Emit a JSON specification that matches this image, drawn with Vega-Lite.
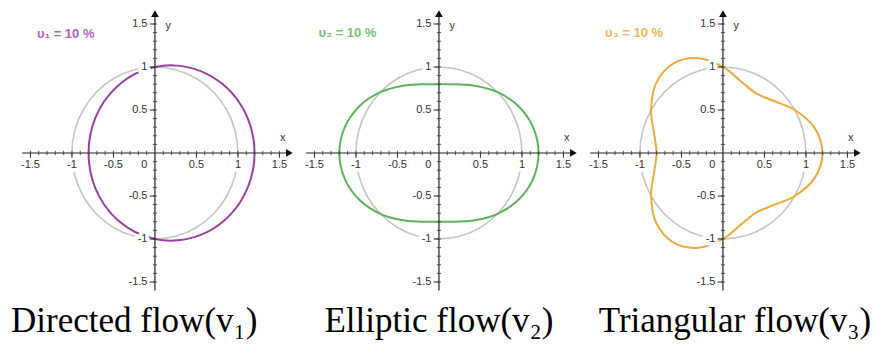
{
  "$schema": "https://vega.github.io/schema/vega-lite/v6.json",
  "padding": 0,
  "spacing": 0,
  "bounds": "flush",
  "background": "white",
  "config": {"view": {"stroke": null}},
  "datasets": {
    "circle": [
      {"k":0,"x":1,"y":0},{"k":1,"x":0.9659,"y":0.2588},{"k":2,"x":0.866,"y":0.5},{"k":3,"x":0.7071,"y":0.7071},
      {"k":4,"x":0.5,"y":0.866},{"k":5,"x":0.2588,"y":0.9659},{"k":6,"x":0,"y":1},{"k":7,"x":-0.2588,"y":0.9659},
      {"k":8,"x":-0.5,"y":0.866},{"k":9,"x":-0.7071,"y":0.7071},{"k":10,"x":-0.866,"y":0.5},{"k":11,"x":-0.9659,"y":0.2588},
      {"k":12,"x":-1,"y":0},{"k":13,"x":-0.9659,"y":-0.2588},{"k":14,"x":-0.866,"y":-0.5},{"k":15,"x":-0.7071,"y":-0.7071},
      {"k":16,"x":-0.5,"y":-0.866},{"k":17,"x":-0.2588,"y":-0.9659},{"k":18,"x":0,"y":-1},{"k":19,"x":0.2588,"y":-0.9659},
      {"k":20,"x":0.5,"y":-0.866},{"k":21,"x":0.7071,"y":-0.7071},{"k":22,"x":0.866,"y":-0.5},{"k":23,"x":0.9659,"y":-0.2588}
    ],
    "v1": [
      {"k":0,"x":1.2,"y":0},{"k":1,"x":1.1525,"y":0.3088},{"k":2,"x":1.016,"y":0.5866},{"k":3,"x":0.8071,"y":0.8071},
      {"k":4,"x":0.55,"y":0.9526},{"k":5,"x":0.2722,"y":1.0159},{"k":6,"x":0,"y":1},{"k":7,"x":-0.2454,"y":0.9159},
      {"k":8,"x":-0.45,"y":0.7794},{"k":9,"x":-0.6071,"y":0.6071},{"k":10,"x":-0.716,"y":0.4134},{"k":11,"x":-0.7793,"y":0.2088},
      {"k":12,"x":-0.8,"y":0},{"k":13,"x":-0.7793,"y":-0.2088},{"k":14,"x":-0.716,"y":-0.4134},{"k":15,"x":-0.6071,"y":-0.6071},
      {"k":16,"x":-0.45,"y":-0.7794},{"k":17,"x":-0.2454,"y":-0.9159},{"k":18,"x":0,"y":-1},{"k":19,"x":0.2722,"y":-1.0159},
      {"k":20,"x":0.55,"y":-0.9526},{"k":21,"x":0.8071,"y":-0.8071},{"k":22,"x":1.016,"y":-0.5866},{"k":23,"x":1.1525,"y":-0.3088}
    ],
    "v2": [
      {"k":0,"x":1.2,"y":0},{"k":1,"x":1.1332,"y":0.3036},{"k":2,"x":0.9526,"y":0.55},{"k":3,"x":0.7071,"y":0.7071},
      {"k":4,"x":0.45,"y":0.7794},{"k":5,"x":0.214,"y":0.7986},{"k":6,"x":0,"y":0.8},{"k":7,"x":-0.214,"y":0.7986},
      {"k":8,"x":-0.45,"y":0.7794},{"k":9,"x":-0.7071,"y":0.7071},{"k":10,"x":-0.9526,"y":0.55},{"k":11,"x":-1.1332,"y":0.3036},
      {"k":12,"x":-1.2,"y":0},{"k":13,"x":-1.1332,"y":-0.3036},{"k":14,"x":-0.9526,"y":-0.55},{"k":15,"x":-0.7071,"y":-0.7071},
      {"k":16,"x":-0.45,"y":-0.7794},{"k":17,"x":-0.214,"y":-0.7986},{"k":18,"x":0,"y":-0.8},{"k":19,"x":0.214,"y":-0.7986},
      {"k":20,"x":0.45,"y":-0.7794},{"k":21,"x":0.7071,"y":-0.7071},{"k":22,"x":0.9526,"y":-0.55},{"k":23,"x":1.1332,"y":-0.3036}
    ],
    "v3": [
      {"k":0,"x":1.2,"y":0},{"k":1,"x":1.1025,"y":0.2954},{"k":2,"x":0.866,"y":0.5},{"k":3,"x":0.6071,"y":0.6071},
      {"k":4,"x":0.4,"y":0.6928},{"k":5,"x":0.2222,"y":0.8293},{"k":6,"x":0,"y":1},{"k":7,"x":-0.2954,"y":1.1025},
      {"k":8,"x":-0.6,"y":1.0392},{"k":9,"x":-0.8071,"y":0.8071},{"k":10,"x":-0.866,"y":0.5},{"k":11,"x":-0.8293,"y":0.2222},
      {"k":12,"x":-0.8,"y":0},{"k":13,"x":-0.8293,"y":-0.2222},{"k":14,"x":-0.866,"y":-0.5},{"k":15,"x":-0.8071,"y":-0.8071},
      {"k":16,"x":-0.6,"y":-1.0392},{"k":17,"x":-0.2954,"y":-1.1025},{"k":18,"x":0,"y":-1},{"k":19,"x":0.2222,"y":-0.8293},
      {"k":20,"x":0.4,"y":-0.6928},{"k":21,"x":0.6071,"y":-0.6071},{"k":22,"x":0.866,"y":-0.5},{"k":23,"x":1.1025,"y":-0.2954}
    ],
    "minor": [
      {"t":-1.5},{"t":-1.4},{"t":-1.3},{"t":-1.2},{"t":-1.1},{"t":-1},{"t":-0.9},{"t":-0.8},{"t":-0.7},{"t":-0.6},
      {"t":-0.5},{"t":-0.4},{"t":-0.3},{"t":-0.2},{"t":-0.1},{"t":0.1},{"t":0.2},{"t":0.3},{"t":0.4},{"t":0.5},
      {"t":0.6},{"t":0.7},{"t":0.8},{"t":0.9},{"t":1},{"t":1.1},{"t":1.2},{"t":1.3},{"t":1.4},{"t":1.5}
    ],
    "major": [{"t":-1.5},{"t":-1},{"t":-0.5},{"t":0.5},{"t":1},{"t":1.5}],
    "xlabels": [
      {"x":-1.5,"y":-0.14,"t":"-1.5"},{"x":-1,"y":-0.14,"t":"-1"},{"x":-0.5,"y":-0.14,"t":"-0.5"},
      {"x":0.5,"y":-0.14,"t":"0.5"},{"x":1,"y":-0.14,"t":"1"},{"x":1.5,"y":-0.14,"t":"1.5"}
    ],
    "ylabels": [
      {"x":-0.09,"y":1.5,"t":"1.5"},{"x":-0.09,"y":1,"t":"1"},{"x":-0.09,"y":0.5,"t":"0.5"},
      {"x":-0.09,"y":-0.5,"t":"-0.5"},{"x":-0.09,"y":-1,"t":"-1"},{"x":-0.09,"y":-1.5,"t":"-1.5"},
      {"x":-0.09,"y":-0.14,"t":"0"}
    ],
    "arrows": [{"x":1.62,"y":0,"s":"triangle-right"},{"x":0,"y":1.62,"s":"triangle-up"}],
    "names": [{"x":1.54,"y":0.17,"t":"x"},{"x":0.16,"y":1.48,"t":"y"}]
  },
  "hconcat": [
    {
      "width": 284, "height": 344,
      "layer": [
        {"data":{"name":"circle"},"mark":{"type":"line","interpolate":"cardinal-closed","stroke":"#c6c6c6","strokeWidth":1.6},
         "encoding":{"x":{"field":"x","type":"quantitative","scale":{"domain":[-1.867,1.555],"nice":false,"zero":false},"axis":null},
                     "y":{"field":"y","type":"quantitative","scale":{"domain":[-2.221,1.779],"nice":false,"zero":false},"axis":null},
                     "order":{"field":"k","type":"quantitative"}}},
        {"data":{"name":"v1"},"mark":{"type":"line","interpolate":"cardinal-closed","stroke":"#9c3fa0","strokeWidth":2},
         "encoding":{"x":{"field":"x","type":"quantitative"},"y":{"field":"y","type":"quantitative"},"order":{"field":"k","type":"quantitative"}}},
        {"data":{"name":"xlabels"},"mark":{"type":"text","align":"center","baseline":"middle","font":"Liberation Sans","fontSize":11,"fill":"white","stroke":"white","strokeWidth":7},
         "encoding":{"x":{"field":"x","type":"quantitative"},"y":{"field":"y","type":"quantitative"},"text":{"field":"t"}}},
        {"data":{"name":"ylabels"},"mark":{"type":"text","align":"right","baseline":"middle","font":"Liberation Sans","fontSize":11,"fill":"white","stroke":"white","strokeWidth":7},
         "encoding":{"x":{"field":"x","type":"quantitative"},"y":{"field":"y","type":"quantitative"},"text":{"field":"t"}}},
        {"data":{"values":[{}]},"mark":{"type":"rule","color":"#222","strokeWidth":1.2},
         "encoding":{"x":{"datum":-1.6},"x2":{"datum":1.6},"y":{"datum":0}}},
        {"data":{"values":[{}]},"mark":{"type":"rule","color":"#222","strokeWidth":1.2},
         "encoding":{"x":{"datum":0},"y":{"datum":-1.6},"y2":{"datum":1.6}}},
        {"data":{"name":"minor"},"mark":{"type":"rule","color":"#444","strokeWidth":0.9},
         "encoding":{"x":{"field":"t","type":"quantitative"},"y":{"datum":-0.025},"y2":{"datum":0.025}}},
        {"data":{"name":"minor"},"mark":{"type":"rule","color":"#444","strokeWidth":0.9},
         "encoding":{"y":{"field":"t","type":"quantitative"},"x":{"datum":-0.025},"x2":{"datum":0.025}}},
        {"data":{"name":"major"},"mark":{"type":"rule","color":"#333","strokeWidth":1},
         "encoding":{"x":{"field":"t","type":"quantitative"},"y":{"datum":-0.055},"y2":{"datum":0}}},
        {"data":{"name":"major"},"mark":{"type":"rule","color":"#333","strokeWidth":1},
         "encoding":{"y":{"field":"t","type":"quantitative"},"x":{"datum":-0.065},"x2":{"datum":0}}},
        {"data":{"name":"arrows"},"mark":{"type":"point","filled":true,"color":"#111","size":60,"opacity":1},
         "encoding":{"x":{"field":"x","type":"quantitative"},"y":{"field":"y","type":"quantitative"},"shape":{"field":"s","type":"nominal","scale":null}}},
        {"data":{"name":"xlabels"},"mark":{"type":"text","align":"center","baseline":"middle","font":"Liberation Sans","fontSize":11,"color":"#333"},
         "encoding":{"x":{"field":"x","type":"quantitative"},"y":{"field":"y","type":"quantitative"},"text":{"field":"t"}}},
        {"data":{"name":"ylabels"},"mark":{"type":"text","align":"right","baseline":"middle","font":"Liberation Sans","fontSize":11,"color":"#333"},
         "encoding":{"x":{"field":"x","type":"quantitative"},"y":{"field":"y","type":"quantitative"},"text":{"field":"t"}}},
        {"data":{"name":"names"},"mark":{"type":"text","align":"center","baseline":"middle","font":"Liberation Sans","fontSize":11,"color":"#333"},
         "encoding":{"x":{"field":"x","type":"quantitative"},"y":{"field":"y","type":"quantitative"},"text":{"field":"t"}}},
        {"data":{"values":[{"x":-1.42,"y":1.38,"t":"υ₁ = 10 %"}]},"mark":{"type":"text","align":"left","baseline":"middle","font":"Liberation Sans","fontSize":13,"fontWeight":"bold","color":"#b563b9"},
         "encoding":{"x":{"field":"x","type":"quantitative"},"y":{"field":"y","type":"quantitative"},"text":{"field":"t"}}},
        {"data":{"values":[{"x":-0.25,"y":-2.08,"t":"Directed flow(v₁)"}]},"mark":{"type":"text","align":"center","baseline":"alphabetic","font":"Liberation Serif","fontSize":35,"color":"#000"},
         "encoding":{"x":{"field":"x","type":"quantitative"},"y":{"field":"y","type":"quantitative"},"text":{"field":"t"}}}
      ]
    },
    {
      "width": 284, "height": 344,
      "layer": [
        {"data":{"name":"circle"},"mark":{"type":"line","interpolate":"cardinal-closed","stroke":"#c6c6c6","strokeWidth":1.6},
         "encoding":{"x":{"field":"x","type":"quantitative","scale":{"domain":[-1.867,1.555],"nice":false,"zero":false},"axis":null},
                     "y":{"field":"y","type":"quantitative","scale":{"domain":[-2.221,1.779],"nice":false,"zero":false},"axis":null},
                     "order":{"field":"k","type":"quantitative"}}},
        {"data":{"name":"v2"},"mark":{"type":"line","interpolate":"cardinal-closed","stroke":"#5cb35c","strokeWidth":2},
         "encoding":{"x":{"field":"x","type":"quantitative"},"y":{"field":"y","type":"quantitative"},"order":{"field":"k","type":"quantitative"}}},
        {"data":{"name":"xlabels"},"mark":{"type":"text","align":"center","baseline":"middle","font":"Liberation Sans","fontSize":11,"fill":"white","stroke":"white","strokeWidth":7},
         "encoding":{"x":{"field":"x","type":"quantitative"},"y":{"field":"y","type":"quantitative"},"text":{"field":"t"}}},
        {"data":{"name":"ylabels"},"mark":{"type":"text","align":"right","baseline":"middle","font":"Liberation Sans","fontSize":11,"fill":"white","stroke":"white","strokeWidth":7},
         "encoding":{"x":{"field":"x","type":"quantitative"},"y":{"field":"y","type":"quantitative"},"text":{"field":"t"}}},
        {"data":{"values":[{}]},"mark":{"type":"rule","color":"#222","strokeWidth":1.2},
         "encoding":{"x":{"datum":-1.6},"x2":{"datum":1.6},"y":{"datum":0}}},
        {"data":{"values":[{}]},"mark":{"type":"rule","color":"#222","strokeWidth":1.2},
         "encoding":{"x":{"datum":0},"y":{"datum":-1.6},"y2":{"datum":1.6}}},
        {"data":{"name":"minor"},"mark":{"type":"rule","color":"#444","strokeWidth":0.9},
         "encoding":{"x":{"field":"t","type":"quantitative"},"y":{"datum":-0.025},"y2":{"datum":0.025}}},
        {"data":{"name":"minor"},"mark":{"type":"rule","color":"#444","strokeWidth":0.9},
         "encoding":{"y":{"field":"t","type":"quantitative"},"x":{"datum":-0.025},"x2":{"datum":0.025}}},
        {"data":{"name":"major"},"mark":{"type":"rule","color":"#333","strokeWidth":1},
         "encoding":{"x":{"field":"t","type":"quantitative"},"y":{"datum":-0.055},"y2":{"datum":0}}},
        {"data":{"name":"major"},"mark":{"type":"rule","color":"#333","strokeWidth":1},
         "encoding":{"y":{"field":"t","type":"quantitative"},"x":{"datum":-0.065},"x2":{"datum":0}}},
        {"data":{"name":"arrows"},"mark":{"type":"point","filled":true,"color":"#111","size":60,"opacity":1},
         "encoding":{"x":{"field":"x","type":"quantitative"},"y":{"field":"y","type":"quantitative"},"shape":{"field":"s","type":"nominal","scale":null}}},
        {"data":{"name":"xlabels"},"mark":{"type":"text","align":"center","baseline":"middle","font":"Liberation Sans","fontSize":11,"color":"#333"},
         "encoding":{"x":{"field":"x","type":"quantitative"},"y":{"field":"y","type":"quantitative"},"text":{"field":"t"}}},
        {"data":{"name":"ylabels"},"mark":{"type":"text","align":"right","baseline":"middle","font":"Liberation Sans","fontSize":11,"color":"#333"},
         "encoding":{"x":{"field":"x","type":"quantitative"},"y":{"field":"y","type":"quantitative"},"text":{"field":"t"}}},
        {"data":{"name":"names"},"mark":{"type":"text","align":"center","baseline":"middle","font":"Liberation Sans","fontSize":11,"color":"#333"},
         "encoding":{"x":{"field":"x","type":"quantitative"},"y":{"field":"y","type":"quantitative"},"text":{"field":"t"}}},
        {"data":{"values":[{"x":-1.45,"y":1.39,"t":"υ₂ = 10 %"}]},"mark":{"type":"text","align":"left","baseline":"middle","font":"Liberation Sans","fontSize":13,"fontWeight":"bold","color":"#78c378"},
         "encoding":{"x":{"field":"x","type":"quantitative"},"y":{"field":"y","type":"quantitative"},"text":{"field":"t"}}},
        {"data":{"values":[{"x":0,"y":-2.08,"t":"Elliptic flow(v₂)"}]},"mark":{"type":"text","align":"center","baseline":"alphabetic","font":"Liberation Serif","fontSize":35,"color":"#000"},
         "encoding":{"x":{"field":"x","type":"quantitative"},"y":{"field":"y","type":"quantitative"},"text":{"field":"t"}}}
      ]
    },
    {
      "width": 284, "height": 344,
      "layer": [
        {"data":{"name":"circle"},"mark":{"type":"line","interpolate":"cardinal-closed","stroke":"#c6c6c6","strokeWidth":1.6},
         "encoding":{"x":{"field":"x","type":"quantitative","scale":{"domain":[-1.867,1.555],"nice":false,"zero":false},"axis":null},
                     "y":{"field":"y","type":"quantitative","scale":{"domain":[-2.221,1.779],"nice":false,"zero":false},"axis":null},
                     "order":{"field":"k","type":"quantitative"}}},
        {"data":{"name":"v3"},"mark":{"type":"line","interpolate":"cardinal-closed","stroke":"#f0a93c","strokeWidth":2},
         "encoding":{"x":{"field":"x","type":"quantitative"},"y":{"field":"y","type":"quantitative"},"order":{"field":"k","type":"quantitative"}}},
        {"data":{"name":"xlabels"},"mark":{"type":"text","align":"center","baseline":"middle","font":"Liberation Sans","fontSize":11,"fill":"white","stroke":"white","strokeWidth":7},
         "encoding":{"x":{"field":"x","type":"quantitative"},"y":{"field":"y","type":"quantitative"},"text":{"field":"t"}}},
        {"data":{"name":"ylabels"},"mark":{"type":"text","align":"right","baseline":"middle","font":"Liberation Sans","fontSize":11,"fill":"white","stroke":"white","strokeWidth":7},
         "encoding":{"x":{"field":"x","type":"quantitative"},"y":{"field":"y","type":"quantitative"},"text":{"field":"t"}}},
        {"data":{"values":[{}]},"mark":{"type":"rule","color":"#222","strokeWidth":1.2},
         "encoding":{"x":{"datum":-1.6},"x2":{"datum":1.6},"y":{"datum":0}}},
        {"data":{"values":[{}]},"mark":{"type":"rule","color":"#222","strokeWidth":1.2},
         "encoding":{"x":{"datum":0},"y":{"datum":-1.6},"y2":{"datum":1.6}}},
        {"data":{"name":"minor"},"mark":{"type":"rule","color":"#444","strokeWidth":0.9},
         "encoding":{"x":{"field":"t","type":"quantitative"},"y":{"datum":-0.025},"y2":{"datum":0.025}}},
        {"data":{"name":"minor"},"mark":{"type":"rule","color":"#444","strokeWidth":0.9},
         "encoding":{"y":{"field":"t","type":"quantitative"},"x":{"datum":-0.025},"x2":{"datum":0.025}}},
        {"data":{"name":"major"},"mark":{"type":"rule","color":"#333","strokeWidth":1},
         "encoding":{"x":{"field":"t","type":"quantitative"},"y":{"datum":-0.055},"y2":{"datum":0}}},
        {"data":{"name":"major"},"mark":{"type":"rule","color":"#333","strokeWidth":1},
         "encoding":{"y":{"field":"t","type":"quantitative"},"x":{"datum":-0.065},"x2":{"datum":0}}},
        {"data":{"name":"arrows"},"mark":{"type":"point","filled":true,"color":"#111","size":60,"opacity":1},
         "encoding":{"x":{"field":"x","type":"quantitative"},"y":{"field":"y","type":"quantitative"},"shape":{"field":"s","type":"nominal","scale":null}}},
        {"data":{"name":"xlabels"},"mark":{"type":"text","align":"center","baseline":"middle","font":"Liberation Sans","fontSize":11,"color":"#333"},
         "encoding":{"x":{"field":"x","type":"quantitative"},"y":{"field":"y","type":"quantitative"},"text":{"field":"t"}}},
        {"data":{"name":"ylabels"},"mark":{"type":"text","align":"right","baseline":"middle","font":"Liberation Sans","fontSize":11,"color":"#333"},
         "encoding":{"x":{"field":"x","type":"quantitative"},"y":{"field":"y","type":"quantitative"},"text":{"field":"t"}}},
        {"data":{"name":"names"},"mark":{"type":"text","align":"center","baseline":"middle","font":"Liberation Sans","fontSize":11,"color":"#333"},
         "encoding":{"x":{"field":"x","type":"quantitative"},"y":{"field":"y","type":"quantitative"},"text":{"field":"t"}}},
        {"data":{"values":[{"x":-1.42,"y":1.39,"t":"υ₃ = 10 %"}]},"mark":{"type":"text","align":"left","baseline":"middle","font":"Liberation Sans","fontSize":13,"fontWeight":"bold","color":"#f3b656"},
         "encoding":{"x":{"field":"x","type":"quantitative"},"y":{"field":"y","type":"quantitative"},"text":{"field":"t"}}},
        {"data":{"values":[{"x":0.145,"y":-2.08,"t":"Triangular flow(v₃)"}]},"mark":{"type":"text","align":"center","baseline":"alphabetic","font":"Liberation Serif","fontSize":35,"color":"#000"},
         "encoding":{"x":{"field":"x","type":"quantitative"},"y":{"field":"y","type":"quantitative"},"text":{"field":"t"}}}
      ]
    }
  ]
}
